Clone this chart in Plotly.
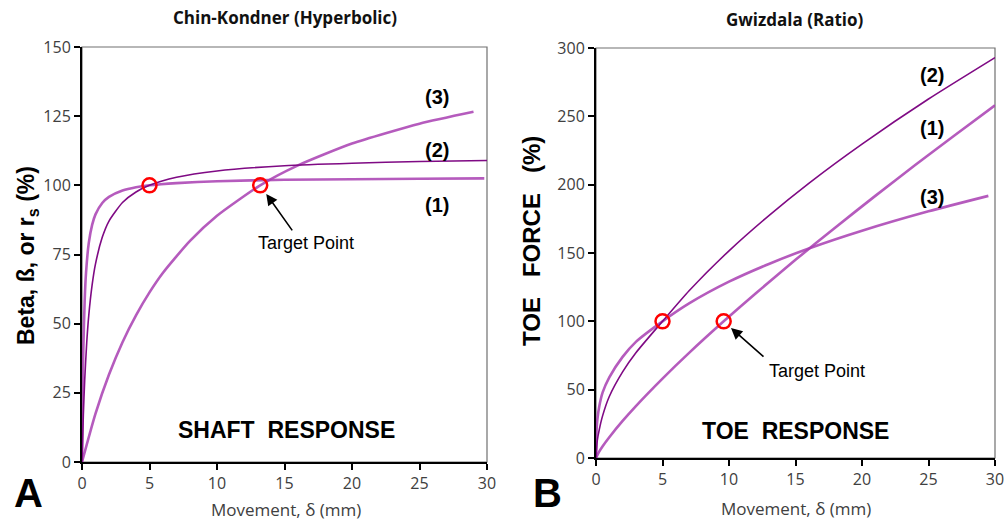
import plotly.graph_objects as go

W, H = 1004, 520

# ---------------- Panel A: Chin-Kondner (Hyperbolic) ----------------
a1_x = [0, 0.05, 0.1, 0.2, 0.3, 0.5, 0.75, 1, 1.5, 2, 3, 4, 5, 7, 10, 15, 20, 25, 29.8]
a1_y = [0, 25.6, 41.0, 58.7, 68.5, 79.1, 85.7, 89.5, 93.6, 95.8, 98.1, 99.3, 100.0, 100.8, 101.5, 102.0, 102.2, 102.4, 102.5]

a2_x = [0, 0.1, 0.2, 0.35, 0.5, 0.75, 1, 1.5, 2, 3, 4, 5, 7, 10, 15, 20, 25, 30]
a2_y = [0, 17.1, 29.6, 43.2, 52.9, 64.0, 71.6, 81.2, 87.1, 93.8, 97.6, 100.0, 102.9, 105.2, 107.1, 108.0, 108.6, 109.0]

a3_x = [0, 1, 2, 3, 4, 5, 6, 8, 10, 13.2, 16, 20, 25, 29]
a3_y = [0, 17.5, 31.6, 43.3, 53.0, 61.3, 68.4, 79.9, 89.0, 100.0, 107.2, 115.1, 122.3, 126.6]

a_target_x = [5, 13.2]
a_target_y = [100, 100]

# ---------------- Panel B: Gwizdala (Ratio) ----------------
b1_x = [0, 0.25, 0.5, 1, 2, 3, 5, 7, 9.6, 12, 15, 18, 21, 24, 27, 30]
b1_y = [0, 4.8, 8.6, 15.2, 27.1, 38.0, 58.1, 76.9, 100, 120.4, 145.0, 168.7, 191.8, 214.4, 236.4, 258.1]

b2_x = [0, 0.1, 0.25, 0.5, 1, 2, 3, 5, 7, 10, 13, 16, 20, 25, 30]
b2_y = [0, 13.0, 21.0, 31.0, 45.0, 63.0, 77.0, 100, 122.4, 151.6, 177.4, 201.0, 229.7, 262.7, 293.0]

b3_x = [0, 0.05, 0.1, 0.25, 0.5, 1, 2, 3, 5, 7, 10, 13, 16, 20, 25, 29.5]
b3_y = [0, 22.0, 28.0, 38.0, 48.0, 59.0, 74.0, 85.0, 100, 113.1, 129.0, 142.0, 153.3, 166.3, 180.5, 191.8]

b_target_x = [5, 9.6]
b_target_y = [100, 100]

x_ticks = [0, 5, 10, 15, 20, 25, 30]
a_y_ticks = [0, 25, 50, 75, 100, 125, 150]
b_y_ticks = [0, 50, 100, 150, 200, 250, 300]

DARK = "#7f0a84"
LIGHT = "rgba(168,62,178,0.85)"


def px(x):
    return x / W


def py(y):
    return 1 - y / H


fig = go.Figure()


def add_curve(x, y, color, width, xa, ya):
    fig.add_trace(go.Scatter(x=x, y=y, mode="lines",
                             line=dict(color=color, width=width, shape="spline", smoothing=0.6),
                             xaxis=xa, yaxis=ya, showlegend=False, hoverinfo="skip"))


add_curve(a3_x, a3_y, LIGHT, 2.6, "x", "y")
add_curve(a1_x, a1_y, LIGHT, 2.6, "x", "y")
add_curve(a2_x, a2_y, DARK, 1.6, "x", "y")
add_curve(b1_x, b1_y, LIGHT, 2.6, "x2", "y2")
add_curve(b3_x, b3_y, LIGHT, 2.6, "x2", "y2")
add_curve(b2_x, b2_y, DARK, 1.6, "x2", "y2")

for tx, ty, xa, ya in [(a_target_x, a_target_y, "x", "y"), (b_target_x, b_target_y, "x2", "y2")]:
    fig.add_trace(go.Scatter(x=tx, y=ty, mode="markers",
                             marker=dict(symbol="circle-open", size=14, color="#ff0000",
                                         line=dict(color="#ff0000", width=2.5)),
                             xaxis=xa, yaxis=ya, showlegend=False, hoverinfo="skip"))

seg = "Open Sans, Noto Sans, sans-serif"
tickfont = dict(family=seg, size=16, color="#404040")
axis_common = dict(showline=True, linecolor="black", linewidth=2, ticks="outside",
                   ticklen=6, tickwidth=1.5, tickcolor="black", showgrid=False,
                   zeroline=False, tickfont=tickfont, automargin=False, fixedrange=True,
                   ticklabeloverflow="allow")

fig.update_layout(
    width=W, height=H,
    margin=dict(l=0, r=0, t=0, b=0),
    paper_bgcolor="white", plot_bgcolor="white",
    template="none",
    xaxis=dict(domain=[px(82), px(487)], range=[0, 30], tickvals=x_ticks, anchor="y", **axis_common),
    yaxis=dict(domain=[py(462), py(47)], range=[0, 150], tickvals=a_y_ticks, anchor="x", **axis_common),
    xaxis2=dict(domain=[px(596), px(995)], range=[0, 30], tickvals=x_ticks, anchor="y2", **axis_common),
    yaxis2=dict(domain=[py(458), py(48)], range=[0, 300], tickvals=b_y_ticks, anchor="x2", **axis_common),
)

# gray frame (top/right)
for xr, yr in [("x domain", "y domain"), ("x2 domain", "y2 domain")]:
    fig.add_shape(type="rect", xref=xr, yref=yr, x0=0, x1=1, y0=0, y1=1,
                  line=dict(color="#707070", width=1.2), layer="below")

ann = []


def text(x, y, s, size, bold=False, family="Liberation Sans, Arial, sans-serif", color="black", angle=0):
    ann.append(dict(x=px(x), y=py(y), xref="paper", yref="paper", text=("<b>%s</b>" % s) if bold else s,
                    showarrow=False, textangle=angle, xanchor="center", yanchor="middle",
                    font=dict(family=family, size=size, color=color)))


text(285, 18, "Chin-Kondner (Hyperbolic)", 17, True, seg, "#111111")
text(795, 20, "Gwizdala (Ratio)", 17, True, seg, "#111111")
text(286, 509, "Movement, δ (mm)", 17, False, seg, "#404040")
text(796, 508, "Movement, δ (mm)", 17, False, seg, "#404040")
text(27, 256, "Beta, ß, or r<sub>s</sub> (%)", 23, True, angle=-90)
text(531, 241, "TOE&nbsp;&nbsp; FORCE&nbsp;&nbsp; (%)", 24, True, angle=-90)
text(28, 493, "A", 40, True)
text(547, 493, "B", 40, True)
text(286, 430, "SHAFT&nbsp; RESPONSE", 23, True)
text(795, 431, "TOE&nbsp; RESPONSE", 23, True)
text(437, 97, "(3)", 20, True)
text(437, 150, "(2)", 20, True)
text(437, 205, "(1)", 20, True)
text(932, 75, "(2)", 20, True)
text(932, 128, "(1)", 20, True)
text(932, 197, "(3)", 20, True)
text(306, 243, "Target Point", 18)
text(817, 371, "Target Point", 18)

# arrows pointing to target points
ann.append(dict(x=13.65, y=96.9, xref="x", yref="y", ax=27, ay=38, showarrow=True,
                arrowhead=2, arrowsize=1.4, arrowwidth=1.6, arrowcolor="black", text=""))
ann.append(dict(x=10.15, y=95.1, xref="x2", yref="y2", ax=34, ay=30, showarrow=True,
                arrowhead=2, arrowsize=1.4, arrowwidth=1.6, arrowcolor="black", text=""))

fig.update_layout(annotations=ann)

fig.write_html("out.html")
